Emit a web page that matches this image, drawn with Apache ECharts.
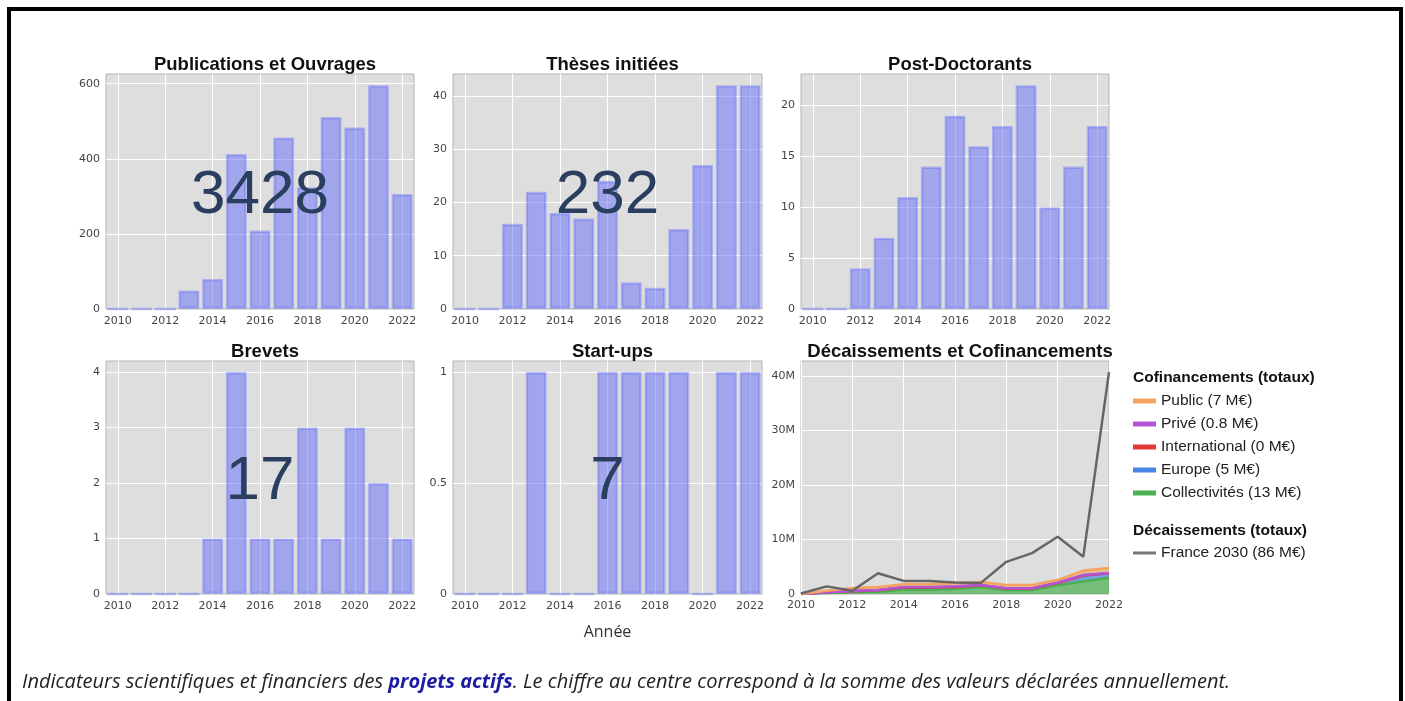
<!DOCTYPE html>
<html lang="fr">
<head>
<meta charset="utf-8">
<title>Indicateurs des projets actifs</title>
<script src="https://cdn.jsdelivr.net/npm/echarts@6/dist/echarts.min.js"></script>
<style>
  html, body { margin: 0; padding: 0; background: #fff; overflow: hidden; }
  .frame {
    position: absolute; left: 7px; top: 7px; width: 1396px; height: 760px;
    border: 4px solid #000; border-bottom: none; box-sizing: border-box;
  }
  #chart { position: absolute; left: 0; top: 0; width: 1405px; height: 701px; }
  .caption {
    position: absolute; left: 22px; top: 667px; margin: 0;
    font-family: 'Open Sans', sans-serif; font-style: italic; font-size: 20px;
    color: #222; white-space: nowrap;
  }
  .caption b { color: #1c1c9e; }
</style>
</head>
<body>
<div class="frame"></div>
<div id="chart"></div>
<p class="caption">Indicateurs scientifiques et financiers des <b>projets actifs</b>. Le chiffre au centre correspond à la somme des valeurs déclarées annuellement.</p>
<script>
// années communes à tous les panneaux
const years = ['2010', '2011', '2012', '2013', '2014', '2015', '2016', '2017', '2018', '2019', '2020', '2021', '2022'];

const publications = [0, 0, 0, 49, 80, 413, 209, 457, 324, 511, 483, 596, 306];
const theses = [0, 0, 16, 22, 18, 17, 24, 5, 4, 15, 27, 42, 42];
const postDocs = [0, 0, 4, 7, 11, 14, 19, 16, 18, 22, 10, 14, 18];
const brevets = [0, 0, 0, 0, 1, 4, 1, 1, 3, 1, 3, 2, 1];
const startups = [0, 0, 0, 1, 0, 0, 1, 1, 1, 1, 0, 1, 1];

// cofinancements et décaissements, en millions d'euros
const cofCollectivites = [0, 0.2, 0.3, 0.4, 0.8, 0.8, 0.9, 1.3, 0.7, 0.7, 1.6, 2.3, 3.0];
const cofEurope = [0, 0.1, 0.2, 0.3, 0.4, 0.4, 0.4, 0.3, 0.3, 0.3, 0.4, 1.1, 0.8];
const cofInternational = [0, 0, 0, 0, 0, 0, 0, 0, 0, 0, 0, 0, 0];
const cofPrive = [0, 0, 0.05, 0.05, 0.1, 0.1, 0.1, 0.05, 0.05, 0.05, 0.1, 0.1, 0.05];
const cofPublic = [0, 0.3, 0.55, 0.55, 0.5, 0.5, 0.6, 0.55, 0.6, 0.6, 0.5, 0.8, 0.9];
const decFrance2030 = [0.1, 1.4, 0.6, 3.8, 2.4, 2.4, 2.1, 2.0, 5.9, 7.5, 10.5, 6.85, 40.7];

const cofNames = ['Collectivités (13 M€)', 'Europe (5 M€)', 'International (0 M€)', 'Privé (0.8 M€)', 'Public (7 M€)'];
const decNames = ['France 2030 (86 M€)'];

const barPanels = [
    { title: 'Publications et Ouvrages', data: publications, interval: 200, total: true },
    { title: 'Thèses initiées', data: theses, interval: 10, total: true },
    { title: 'Post-Doctorants', data: postDocs, interval: 5, total: false },
    { title: 'Brevets', data: brevets, interval: 1, total: true },
    { title: 'Start-ups', data: startups, interval: 0.5, total: true }
];

const grids = [
    { left: 106, top: 74, width: 308, height: 235 },
    { left: 453, top: 74, width: 309, height: 235 },
    { left: 801, top: 74, width: 308, height: 235 },
    { left: 106, top: 361, width: 308, height: 233 },
    { left: 453, top: 361, width: 309, height: 233 },
    { left: 801, top: 361, width: 308, height: 233 }
];

const tickFont = { fontFamily: 'DejaVu Sans', fontSize: 11, color: '#444' };
const whiteLine = { color: '#fff', width: 1 };
const titleFont = { fontFamily: 'Liberation Sans', fontWeight: 'bold', fontSize: 18.5, color: '#111' };

var option = {
    animation: false,
    title: [],
    grid: [],
    xAxis: [],
    yAxis: [],
    series: [],
    graphic: [],
    legend: []
};

grids.forEach(function (g) {
    option.grid.push(Object.assign({
        show: true,
        backgroundColor: '#dedede',
        borderColor: '#b4b4b4',
        borderWidth: 1
    }, g));
});

function yAxisFor(i, interval, formatter) {
    return {
        type: 'value',
        gridIndex: i,
        min: 0,
        max: function (v) { return v.max * 1.05; },
        interval: interval,
        axisLine: { show: false },
        axisTick: { show: false },
        axisLabel: Object.assign({ margin: 6, showMaxLabel: false, formatter: formatter }, tickFont),
        splitLine: { show: true, showMinLine: false, showMaxLine: false, lineStyle: whiteLine }
    };
}

barPanels.forEach(function (p, i) {
    var g = grids[i];
    option.title.push({
        text: p.title,
        left: g.left + g.width / 2,
        top: g.top - 24,
        textAlign: 'center',
        textStyle: titleFont
    });
    option.xAxis.push({
        type: 'category',
        gridIndex: i,
        data: years,
        axisLine: { show: false },
        axisTick: { show: false },
        axisLabel: Object.assign({ interval: 1, margin: 7 }, tickFont),
        splitLine: { show: true, interval: 1, alignWithLabel: true, lineStyle: whiteLine }
    });
    option.yAxis.push(yAxisFor(i, p.interval));
    option.series.push({
        type: 'bar',
        xAxisIndex: i,
        yAxisIndex: i,
        data: p.data,
        barCategoryGap: '12%',
        silent: true,
        itemStyle: {
            color: 'rgba(99,110,250,0.5)',
            borderColor: 'rgba(99,110,250,0.4)',
            borderWidth: 2.5
        }
    });
    if (p.total) {
        var sum = p.data.reduce(function (a, b) { return a + b; }, 0);
        option.graphic.push({
            type: 'text',
            x: g.left + g.width / 2,
            y: g.top + g.height / 2 + 4,
            z: 100,
            style: {
                text: String(sum),
                fontFamily: 'Liberation Sans',
                fontSize: 62,
                fill: '#2a3f5f',
                align: 'center',
                verticalAlign: 'middle'
            }
        });
    }
});

// axe "Année" sous le panneau central
option.xAxis[4].name = 'Année';
option.xAxis[4].nameLocation = 'middle';
option.xAxis[4].nameGap = 30;
option.xAxis[4].nameTextStyle = { fontFamily: 'Open Sans', fontSize: 16, color: '#333' };

// panneau 6 : décaissements et cofinancements
var g6 = grids[5];
option.title.push({
    text: 'Décaissements et Cofinancements',
    left: g6.left + g6.width / 2,
    top: g6.top - 24,
    textAlign: 'center',
    textStyle: titleFont
});
option.xAxis.push({
    type: 'category',
    gridIndex: 5,
    data: years,
    boundaryGap: false,
    axisLine: { show: false },
    axisTick: { show: false },
    axisLabel: Object.assign({ interval: 1, margin: 6 }, tickFont),
    splitLine: { show: true, interval: 1, lineStyle: whiteLine }
});
option.yAxis.push(yAxisFor(5, 10, function (v) { return v === 0 ? '0' : v + 'M'; }));

var cofData = [cofCollectivites, cofEurope, cofInternational, cofPrive, cofPublic];
var cofColors = ['#4caf50', '#4a86e8', '#e53935', '#b455d8', '#f4a460'];
var cofFill = ['rgba(76,175,80,0.7)', 'rgba(74,134,232,0.7)', 'rgba(229,57,53,0.5)', 'rgba(180,85,216,0.5)', 'rgba(244,164,96,0.6)'];
cofData.forEach(function (d, k) {
    option.series.push({
        name: cofNames[k],
        type: 'line',
        xAxisIndex: 5,
        yAxisIndex: 5,
        stack: 'cof',
        data: d,
        symbol: 'none',
        silent: true,
        lineStyle: { color: cofColors[k], width: 2.5 },
        itemStyle: { color: cofColors[k] },
        areaStyle: { color: cofFill[k], opacity: 1 }
    });
});
option.series.push({
    name: decNames[0],
    type: 'line',
    xAxisIndex: 5,
    yAxisIndex: 5,
    data: decFrance2030,
    symbol: 'none',
    silent: true,
    z: 5,
    lineStyle: { color: '#666', width: 2.5 },
    itemStyle: { color: '#777' }
});

// légendes
var legendText = { fontFamily: 'Liberation Sans', fontSize: 15.5, color: '#222', lineHeight: 16 };
var headFont = { fontFamily: 'Liberation Sans', fontWeight: 'bold', fontSize: 15.5, color: '#111' };
option.title.push({ text: 'Cofinancements (totaux)', left: 1133, top: 370, padding: 0, textStyle: headFont });
option.title.push({ text: 'Décaissements (totaux)', left: 1133, top: 523, padding: 0, textStyle: headFont });
option.legend.push({
    orient: 'vertical',
    left: 1133,
    top: 393,
    padding: 0,
    itemGap: 7,
    itemWidth: 23,
    itemHeight: 5,
    icon: 'rect',
    selectedMode: false,
    data: cofNames.slice().reverse(),
    textStyle: legendText
});
option.legend.push({
    orient: 'vertical',
    left: 1133,
    top: 545,
    padding: 0,
    itemWidth: 23,
    itemHeight: 3,
    icon: 'rect',
    selectedMode: false,
    data: decNames,
    textStyle: legendText
});

var myChart = echarts.init(document.getElementById('chart'));
myChart.setOption(option);
window.addEventListener('resize', () => {
    myChart.resize()
})
</script>
</body>
</html>
